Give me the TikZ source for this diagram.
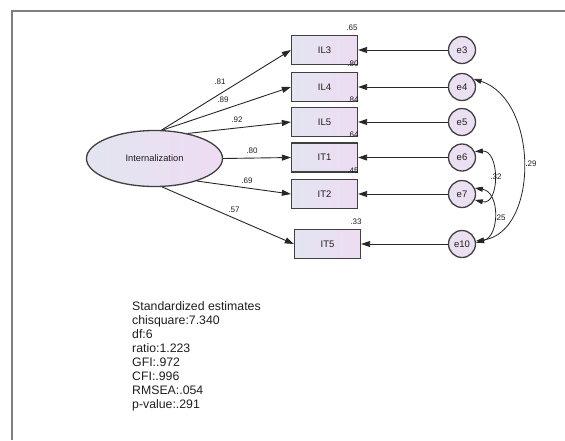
\documentclass[tikz,border=0pt]{standalone}
\usepackage{fontspec}
\setmainfont{Liberation Sans}
\usetikzlibrary{arrows.meta,shapes.geometric}
\definecolor{fillL}{HTML}{E3E5F0}
\definecolor{fillR}{HTML}{EEDCF3}
\definecolor{errfill}{HTML}{EAE0F1}
\definecolor{edgec}{HTML}{404040}
\definecolor{framec}{HTML}{7E7E7E}
\definecolor{ink}{HTML}{1E1E1E}
\begin{document}
\begin{tikzpicture}[x=1pt,y=-1pt,
  every node/.style={text=ink},
  obs/.style={draw=edgec, line width=1.3pt, left color=fillL, right color=fillR,
    minimum width=66pt, minimum height=29pt, inner sep=0pt,
    font=\fontsize{9.5}{10}\selectfont},
  lat/.style={ellipse, draw=edgec, line width=1.3pt, left color=fillL, right color=fillR,
    minimum width=136pt, minimum height=56pt, inner sep=0pt,
    font=\fontsize{9.3}{10}\selectfont},
  err/.style={circle, draw=edgec, line width=1.3pt, fill=errfill,
    minimum size=27pt, inner sep=0pt, font=\fontsize{9.5}{10}\selectfont},
  load/.style={draw=black!85, line width=0.9pt, -{Triangle[length=9pt,width=6pt]}},
  cov/.style={draw=black!85, line width=0.8pt,
    {Triangle[length=8pt,width=5pt]}-{Triangle[length=8pt,width=5pt]}},
  est/.style={font=\fontsize{8}{9}\selectfont, inner sep=0pt},
]
\useasboundingbox (0,0) rectangle (565,440);

% frame
\draw[framec, line width=2pt] (12,440) -- (12,11) -- (565,11);

% latent factor
\node[lat] (F) at (154.5,158.5) {Internalization};

% indicators
\node[obs] (IL3) at (324.5,50)    {IL3};
\node[obs] (IL4) at (324.5,87)    {IL4};
\node[obs] (IL5) at (324.5,122)   {IL5};
\node[obs] (IT1) at (324.5,157.5) {IT1};
\node[obs] (IT2) at (324.5,194)   {IT2};
\node[obs] (IT5) at (327.5,244)   {IT5};

% error terms
\node[err] (e3)  at (462,50)    {e3};
\node[err] (e4)  at (462,87)    {e4};
\node[err] (e5)  at (462,122)   {e5};
\node[err] (e6)  at (462,157.5) {e6};
\node[err] (e7)  at (462,194)   {e7};
\node[err] (e10) at (462,244)   {e10};

% factor loadings
\draw[load] (F.76)  -- (IL3.west);
\draw[load] (F.74)  -- (IL4.west);
\draw[load] (F.37)  -- (IL5.west);
\draw[load] (F.0)   -- (IT1.west);
\draw[load] (F.-28) -- (IT2.west);
\draw[load] (F.-75) -- (IT5.west);

\node[est] (l1) at (220,82)  {.81};
\node[est] (l2) at (223,100) {.89};
\node[est] (l3) at (237,120) {.92};
\node[est] (l4) at (252,151) {.80};
\node[est] (l5) at (247,181) {.69};
\node[est] (l6) at (234,210) {.57};

% squared multiple correlations
\node[est] (r1) at (352,28)  {.65};
\node[est] (r2) at (353,64)  {.80};
\node[est] (r3) at (353,100) {.84};
\node[est] (r4) at (353,135) {.64};
\node[est] (r5) at (353,171) {.45};
\node[est] (r6) at (356,222) {.33};

% error paths
\draw[load] (e3)  -- (IL3);
\draw[load] (e4)  -- (IL4);
\draw[load] (e5)  -- (IL5);
\draw[load] (e6)  -- (IT1);
\draw[load] (e7)  -- (IT2);
\draw[load] (e10) -- (IT5);

% error covariances
\draw[cov] (e4.35) .. controls (539,100) and (539,232) .. (e10.12);
\draw[cov] (e6.25) .. controls (500,150) and (500,206) .. (e7.-25);
\draw[cov] (e7.25) .. controls (500,192) and (500,236) .. (e10.5);

\node[est] (c1) at (531,164) {.29};
\node[est] (c2) at (496,177) {.32};
\node[est] (c3) at (500,218) {.25};

% fit statistics
\node[anchor=north west, align=left, inner sep=0pt,
  font=\fontsize{12.3}{14.05}\selectfont] (fit) at (132,301)
  {Standardized estimates\\chisquare:7.340\\df:6\\ratio:1.223\\GFI:.972\\CFI:.996\\RMSEA:.054\\p-value:.291};
\end{tikzpicture}
\end{document}
